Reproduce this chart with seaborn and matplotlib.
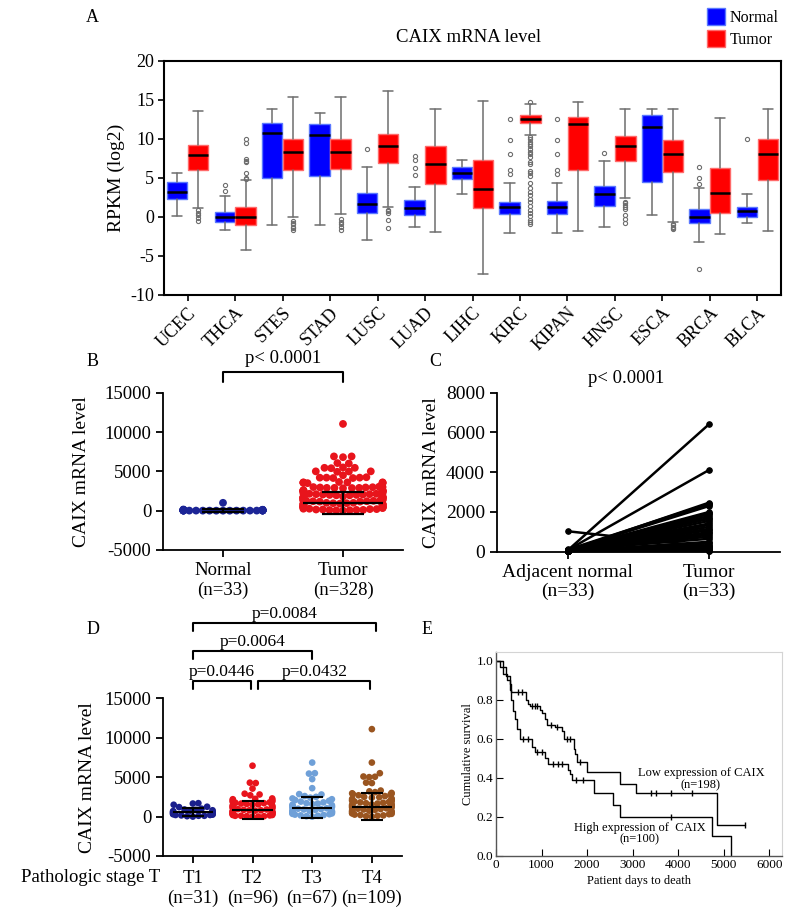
import warnings
import numpy as np
import pandas as pd
import matplotlib
matplotlib.use('Agg')
import matplotlib.pyplot as plt
from matplotlib.patches import Patch
import seaborn as sns

warnings.filterwarnings('ignore')

sns.set_theme(style='ticks')
plt.rcParams['font.family'] = ['Liberation Serif', 'DejaVu Serif']
plt.rcParams['axes.unicode_minus'] = False
plt.rcParams['axes.edgecolor'] = 'black'
plt.rcParams['xtick.color'] = 'black'
plt.rcParams['ytick.color'] = 'black'
plt.rcParams['text.color'] = 'black'
plt.rcParams['axes.labelcolor'] = 'black'

# ---------------- panel A : box statistics per cancer type ----------------
cancers = ['UCEC', 'THCA', 'STES', 'STAD', 'LUSC', 'LUAD', 'LIHC',
           'KIRC', 'KIPAN', 'HNSC', 'ESCA', 'BRCA', 'BLCA']

normal_whislo = [0.1, -1.7, -1.1, -1.1, -3.0, -1.3, 2.9, -2.05, -2.05, -1.3, 0.25, -3.3, -0.85]
normal_q1 = [2.3, -0.65, 4.9, 5.2, 0.5, 0.2, 4.8, 0.35, 0.4, 1.35, 4.5, -0.85, 0.0]
normal_med = [3.2, 0.0, 10.75, 10.5, 1.6, 1.1, 5.65, 1.2, 1.2, 2.85, 11.55, 0.0, 0.75]
normal_q3 = [4.5, 0.65, 12.05, 11.9, 3.0, 2.15, 6.4, 1.9, 2.0, 3.9, 13.0, 0.95, 1.3]
normal_whishi = [5.6, 2.7, 13.8, 13.3, 6.4, 3.75, 7.25, 4.35, 4.35, 7.1, 13.75, 3.7, 2.85]
normal_fliers = [[], [4.0, 3.3], [], [], [8.7], [7.8, 7.3, 6.3, 5.4], [],
                 [12.5, 9.85, 8.1, 6.0, 5.5], [12.5, 9.8, 8.1, 6.0, 5.5], [8.2], [],
                 [6.4, 5.0, 4.2, -6.7], [10.0]]

tumor_whislo = [1.1, -4.3, -0.1, 0.4, 1.2, -2.0, -7.4, 10.5, -1.8, 2.35, -0.65, -2.2, -1.8]
tumor_q1 = [6.0, -1.1, 6.0, 6.1, 6.9, 4.2, 1.07, 12.0, 6.0, 7.2, 5.7, 0.43, 4.7]
tumor_med = [7.9, 0.0, 8.3, 8.3, 9.05, 6.75, 3.6, 12.55, 11.9, 9.05, 8.1, 3.1, 8.0]
tumor_q3 = [9.2, 1.2, 9.9, 9.9, 10.6, 9.05, 7.25, 13.0, 12.75, 10.4, 9.8, 6.3, 9.95]
tumor_whishi = [13.5, 4.7, 15.3, 15.3, 16.15, 13.8, 14.8, 14.5, 14.75, 13.75, 13.8, 12.7, 13.75]
tumor_fliers = [[0.9, 0.5, 0.2, -0.2, -0.5],
                [9.9, 9.5, 7.4, 7.1, 7.0, 5.6, 5.0, 4.8],
                [-0.5, -0.8, -1.0, -1.3, -1.5, -1.7],
                [-0.3, -0.7, -1.0, -1.3, -1.7],
                [0.9, 0.7, 0.5, -0.4, -1.4],
                [], [],
                [14.7, 10.2, 9.9, 9.6, 9.3, 9.0, 8.7, 8.3, 8.1, 7.6, 7.0, 6.7, 5.9,
                 5.6, 5.2, 4.3, 3.7, 3.2, 2.8, 2.3, 1.9, 1.4, 0.9, 0.5, 0.1, -0.4,
                 -0.7, -1.0],
                [],
                [1.9, 1.7, 1.5, 1.3, 1.0, 0.2, -0.3, -0.8],
                [-0.9, -1.1, -1.3, -1.5, -1.6],
                [], []]

# ---------------- panel B : normal vs tumor ----------------
b_groups = ['Normal', 'Tumor']
b_labels = ['Normal\n(n=33)', 'Tumor\n(n=328)']
b_normal = [1000, 150, 120, 100, 90, 80, 80, 70, 60, 60, 50, 50, 40, 40, 30, 30, 30,
            20, 20, 20, 20, 10, 10, 10, 10, 10, 5, 5, 5, 5, 0, 0, 0]
b_tumor = [11030, 6900, 6900, 6800, 6050, 6000, 5500, 5450, 5450, 5400,
           5000, 5000, 4980, 4950, 4500, 4250, 4200, 4200, 4200, 4150, 4150,
           3650, 3600, 3600, 3600, 3550, 3550, 3550, 3500, 3500,
           3050, 3000, 3000, 2980, 2950, 2950, 2900, 2900, 2900, 2880, 2850,
           2600, 2600, 2580, 2550, 2550, 2500, 2500, 2480, 2450, 2450, 2400, 2400,
           2200, 2200, 2150, 2150, 2100, 2100, 2050, 2050, 2000, 2000, 1950, 1950,
           1800, 1800, 1750, 1750, 1700, 1700, 1650, 1650, 1600, 1600, 1550, 1550,
           1400, 1400, 1350, 1350, 1300, 1300, 1250, 1250, 1200, 1200, 1150, 1150,
           1000, 1000, 950, 950, 900, 900, 850, 850, 800, 800, 750, 750,
           600, 600, 550, 550, 500, 500, 450, 450, 400, 400, 350, 350,
           250, 250, 200, 200, 150, 150, 100, 100, 80, 60, 40, 20]
b_mean = [50, 1000]
b_sd = [180, 1380]

# ---------------- panel C : paired samples ----------------
c_labels = ['Adjacent normal\n(n=33)', 'Tumor\n(n=33)']
c_normal = [60, 80, 50, 100, 40, 70, 90, 30, 60, 50, 120, 80, 40, 70, 20, 60, 90,
            50, 30, 100, 1030, 60, 40, 80, 20, 50, 70, 30, 60, 40, 90, 20, 50]
c_tumor = [6420, 4115, 2470, 2420, 2380, 2300, 2000, 1950, 1900, 1800, 1700, 1650,
           1550, 1420, 1350, 1250, 1150, 1080, 980, 920, 250, 850, 760, 650, 500,
           420, 330, 280, 200, 150, 100, 60, 30]

# ---------------- panel D : pathologic stage T ----------------
d_stages = ['T1', 'T2', 'T3', 'T4']
d_labels = ['T1\n(n=31)', 'T2\n(n=96)', 'T3\n(n=67)', 'T4\n(n=109)']
d_t1 = [1700, 1650, 1500, 1250, 1200, 1000, 900, 850, 800, 750, 700, 650, 600, 600,
        550, 500, 500, 450, 400, 400, 350, 300, 300, 250, 200, 200, 150, 100, 100, 50, 0]
d_t2 = [6450, 4300, 4250, 3550, 2900, 2800, 2700,
        2300, 2250, 2200, 2150, 2100, 2000, 1950, 1900, 1850, 1800, 1750, 1700, 1650,
        1600, 1550, 1500, 1450, 1400, 1350, 1300, 1250, 1200, 1150, 1100, 1050, 1000,
        950, 900, 850, 800, 800, 750, 700, 700, 650, 600, 600, 550, 500, 500, 450, 400,
        400, 350, 300, 300, 250, 200, 200, 150, 100, 100, 50, 50, 0, 0]
d_t3 = [6850, 5500, 5450, 4750, 3600, 2850, 2800, 2600, 2500, 2400, 2300, 2200, 2100,
        2000, 1900, 1800, 1700, 1650, 1600, 1500, 1450, 1400, 1300, 1250, 1200, 1100,
        1050, 1000, 950, 900, 850, 800, 750, 700, 650, 600, 550, 500, 450, 400, 350,
        300, 250, 200, 150, 100, 50, 0]
d_t4 = [11090, 6850, 5500, 5080, 5050, 5000, 4300, 4250, 3300, 3200, 3100, 3000, 2950,
        2900, 2850, 2800, 2700, 2600, 2500, 2450, 2400, 2300, 2250, 2200, 2100, 2050,
        2000, 1950, 1900, 1850, 1800, 1750, 1700, 1650, 1600, 1550, 1500, 1450, 1400,
        1350, 1300, 1250, 1200, 1150, 1100, 1050, 1000, 950, 900, 850, 800, 750, 700,
        650, 600, 550, 500, 450, 400, 350, 300, 250, 200, 150, 100, 50, 0]
d_mean = [560, 850, 1140, 1270]
d_sd = [500, 1130, 1320, 1700]
d_pairs = [(0, 0.98), (1.1, 2.97), (0, 2.0), (0, 3.07)]
d_pvals = ['p=0.0446', 'p=0.0432', 'p=0.0064', 'p=0.0084']
d_bracket_top = [17230, 17230, 21000, 24510]

# ---------------- panel E : Kaplan-Meier ----------------
km_low_t = [0, 90, 230, 300, 340, 450, 660, 700, 750, 965, 1020, 1075, 1110, 1295,
            1440, 1490, 1710, 1740, 1770, 1990, 2720, 3070, 4840, 5460]
km_low_s = [1.0, 0.97, 0.92, 0.88, 0.84, 0.84, 0.80, 0.78, 0.77, 0.75, 0.73, 0.70,
            0.67, 0.66, 0.64, 0.60, 0.55, 0.52, 0.48, 0.43, 0.37, 0.32, 0.16, 0.16]
km_low_cens_t = [480, 560, 800, 860, 900, 1200, 1330, 1560, 1620, 1850, 3400, 3520,
                 3830, 4300, 5460]
km_low_cens_s = [0.84, 0.84, 0.77, 0.77, 0.77, 0.67, 0.66, 0.60, 0.60, 0.48, 0.32,
                 0.32, 0.32, 0.32, 0.16]
km_high_t = [0, 150, 250, 300, 340, 380, 420, 460, 520, 780, 860, 1070, 1150, 1580,
             1630, 1670, 2150, 2560, 2720, 4750, 5150]
km_high_s = [1.0, 0.93, 0.90, 0.85, 0.80, 0.74, 0.70, 0.65, 0.60, 0.56, 0.53, 0.50,
             0.47, 0.44, 0.42, 0.39, 0.32, 0.26, 0.20, 0.10, 0.0]
km_high_cens_t = [600, 700, 900, 1000, 1250, 1350, 1450, 1750, 1900, 3850]
km_high_cens_s = [0.60, 0.60, 0.53, 0.53, 0.47, 0.47, 0.47, 0.39, 0.39, 0.20]

W, H = 800, 924
fig = plt.figure(figsize=(W / 100, H / 100), dpi=100)


def px_axes(left, top, right, bottom):
    return fig.add_axes([left / W, 1 - bottom / H, (right - left) / W, (bottom - top) / H])


def panel_label(x, y, s):
    fig.text(x / W, 1 - y / H, s, fontsize=13, ha='center', va='center')


def squeeze_swarm(ax, half_width):
    # seaborn lays the swarm out over +-0.4 at draw time; freeze it and narrow it
    fig.canvas.draw()
    for coll in ax.collections:
        if 'draw' in coll.__dict__:
            offs = coll.get_offsets().copy()
            center = np.round(np.median(offs[:, 0]))
            offs[:, 0] = center + (offs[:, 0] - center) * half_width / 0.4
            del coll.draw
            coll.set_offsets(offs)


# ======================= A =======================
axA = px_axes(164, 60.7, 781, 294.7)


def make_stats(whislo, q1, med, q3, whishi, fliers):
    return [dict(whislo=a, q1=b, med=c, q3=d, whishi=e, fliers=f)
            for a, b, c, d, e, f in zip(whislo, q1, med, q3, whishi, fliers)]


pos = np.arange(len(cancers))
common = dict(widths=0.43, patch_artist=True, manage_ticks=False,
              medianprops=dict(color='black', lw=1.8),
              whiskerprops=dict(color='#6e6e6e', lw=1.1),
              capprops=dict(color='#6e6e6e', lw=1.1),
              flierprops=dict(marker='o', mfc='none', mec='#6e6e6e', ms=3.0, mew=0.8))
axA.bxp(make_stats(normal_whislo, normal_q1, normal_med, normal_q3, normal_whishi, normal_fliers),
        positions=pos - 0.22, boxprops=dict(facecolor='#0000ff', edgecolor='#5a78ff', lw=1), **common)
axA.bxp(make_stats(tumor_whislo, tumor_q1, tumor_med, tumor_q3, tumor_whishi, tumor_fliers),
        positions=pos + 0.22, boxprops=dict(facecolor='#ff0000', edgecolor='#ff6a6a', lw=1), **common)
axA.set_xlim(-0.5, len(cancers) - 0.5)
axA.set_ylim(-10, 20)
axA.set_yticks([-10, -5, 0, 5, 10, 15, 20])
axA.set_xticks(pos)
axA.set_xticklabels(cancers, rotation=45, ha='right', rotation_mode='anchor')
axA.tick_params(axis='both', labelsize=13, length=4, width=1.2, pad=3)
axA.set_ylabel('RPKM (log2)', fontsize=14, labelpad=4)
for sp in axA.spines.values():
    sp.set_linewidth(1.5)
fig.text(469 / W, 1 - 38 / H, 'CAIX mRNA level', fontsize=13.5, ha='center', va='center')
fig.legend(handles=[Patch(facecolor='#0000ff', edgecolor='#5a78ff', label='Normal'),
                    Patch(facecolor='#ff0000', edgecolor='#ff6a6a', label='Tumor')],
           loc='upper left', bbox_to_anchor=(707 / W, 1 - 8 / H), frameon=False,
           fontsize=11.5, handlelength=1.1, handleheight=1.3, handletextpad=0.3,
           labelspacing=0.25, borderpad=0, borderaxespad=0)
panel_label(92.7, 18, 'A')

# ======================= B =======================
axB = px_axes(163, 392.7, 403, 550)
b_df = pd.DataFrame({'group': ['Normal'] * len(b_normal) + ['Tumor'] * len(b_tumor),
                     'value': b_normal + b_tumor})
sns.swarmplot(data=b_df, x='group', y='value', hue='group', order=b_groups,
              hue_order=b_groups, palette=['#1c2596', '#e8141c'], size=5.6,
              linewidth=0, legend=False, ax=axB, zorder=2)
axB.set_xlim(-0.5, 1.5)
axB.set_ylim(-5000, 15000)
squeeze_swarm(axB, 0.33)
for i, (m, s, z) in enumerate(zip(b_mean, b_sd, [1, 5])):
    axB.hlines(m, i - 0.33, i + 0.33, color='black', lw=1.6, zorder=z)
    axB.errorbar(i, m, yerr=s, color='black', capsize=15, elinewidth=1.6,
                 capthick=1.6, zorder=5)
axB.set_yticks([-5000, 0, 5000, 10000, 15000])
axB.set_xticks([0, 1])
axB.set_xticklabels(b_labels)
axB.set_xlabel('')
axB.set_ylabel('CAIX mRNA level', fontsize=14, labelpad=10)
axB.tick_params(axis='both', labelsize=13.5, length=5, width=1.3)
sns.despine(ax=axB)
for sp in axB.spines.values():
    sp.set_linewidth(1.3)
axB.plot([0, 0, 1, 1], [16400, 17670, 17670, 16400], color='black', lw=1.5, clip_on=False)
axB.text(0.5, 19285, 'p< 0.0001', fontsize=13.5, ha='center', va='center')
panel_label(93, 362, 'B')

# ======================= C =======================
axC = px_axes(496.7, 392.7, 780, 551.7)
c_df = pd.DataFrame({'pair': list(range(len(c_normal))) * 2,
                     'pos': [0] * len(c_normal) + [1] * len(c_tumor),
                     'value': c_normal + c_tumor})
sns.lineplot(data=c_df, x='pos', y='value', units='pair', estimator=None,
             color='black', lw=1.8, marker='o', ms=4, mec='black', ax=axC,
             clip_on=False)
axC.set_xlim(-0.5, 1.5)
axC.set_ylim(0, 8000)
axC.set_yticks([0, 2000, 4000, 6000, 8000])
axC.set_xticks([0, 1])
axC.set_xticklabels(c_labels)
axC.set_xlabel('')
axC.set_ylabel('CAIX mRNA level', fontsize=14, labelpad=4)
axC.tick_params(axis='both', labelsize=14, length=5, width=1.3)
sns.despine(ax=axC)
for sp in axC.spines.values():
    sp.set_linewidth(1.3)
axC.text(0.417, 8725, 'p< 0.0001', fontsize=13.5, ha='center', va='center')
panel_label(435, 362, 'C')

# ======================= D =======================
axD = px_axes(163, 698.3, 401.7, 856)
d_values = [d_t1, d_t2, d_t3, d_t4]
d_df = pd.DataFrame({'stage': [s for s, v in zip(d_stages, d_values) for _ in v],
                     'value': [x for v in d_values for x in v]})
sns.swarmplot(data=d_df, x='stage', y='value', hue='stage', order=d_stages,
              hue_order=d_stages, palette=['#1a1f8c', '#e8141c', '#6fa0d8', '#9a5520'],
              size=4.8, linewidth=0, legend=False, ax=axD, zorder=2)
axD.set_xlim(-0.5, 3.5)
axD.set_ylim(-5000, 15000)
squeeze_swarm(axD, 0.33)
for i, (m, s) in enumerate(zip(d_mean, d_sd)):
    axD.hlines(m, i - 0.34, i + 0.34, color='black', lw=1.5, zorder=5)
    axD.errorbar(i, m, yerr=s, color='black', capsize=8, elinewidth=1.5,
                 capthick=1.5, zorder=5)
axD.set_yticks([-5000, 0, 5000, 10000, 15000])
axD.set_xticks(range(4))
axD.set_xticklabels(d_labels)
axD.set_xlabel('')
axD.set_ylabel('CAIX mRNA level', fontsize=14, labelpad=6)
axD.tick_params(axis='both', labelsize=13.5, length=5, width=1.3)
axD.tick_params(axis='x', pad=5)
sns.despine(ax=axD)
for sp in axD.spines.values():
    sp.set_linewidth(1.3)
for (x0, x1), label, top in zip(d_pairs, d_pvals, d_bracket_top):
    axD.plot([x0, x0, x1, x1], [top - 1000, top, top, top - 1000], color='black',
             lw=1.5, clip_on=False)
    axD.text((x0 + x1) / 2, top + 1150, label, fontsize=12.5, ha='center', va='center')
fig.text(160 / W, 1 - 878 / H, 'Pathologic stage T', fontsize=13.5, ha='right', va='center')
panel_label(93, 630, 'D')

# ======================= E =======================
axE = px_axes(496, 651.7, 781.7, 856)
sns.lineplot(x=km_low_t, y=km_low_s, drawstyle='steps-post', estimator=None,
             sort=False, color='black', lw=1.0, ax=axE)
sns.lineplot(x=km_high_t, y=km_high_s, drawstyle='steps-post', estimator=None,
             sort=False, color='black', lw=1.0, ax=axE)
axE.plot(km_low_cens_t, km_low_cens_s, ls='none', marker='|', ms=4, mew=1, color='black')
axE.plot(km_high_cens_t, km_high_cens_s, ls='none', marker='|', ms=4, mew=1, color='black')
axE.set_xlim(0, 6270)
axE.set_ylim(0, 1.046)
axE.set_xticks([0, 1000, 2000, 3000, 4000, 5000, 6000])
axE.set_yticks([0, 0.2, 0.4, 0.6, 0.8, 1.0])
axE.set_yticklabels(['0.0', '0.2', '0.4', '0.6', '0.8', '1.0'])
axE.tick_params(axis='both', direction='in', labelsize=9.5, length=5, width=0.8, pad=2)
axE.set_xlabel('Patient days to death', fontsize=9, labelpad=3)
axE.set_ylabel('Cumulative survival', fontsize=9, labelpad=2)
for side in ['top', 'right']:
    axE.spines[side].set_color('#d4d4d4')
    axE.spines[side].set_linewidth(0.8)
for side in ['left', 'bottom']:
    axE.spines[side].set_color('#555555')
    axE.spines[side].set_linewidth(1.0)
axE.text(4497, 0.4265, 'Low expression of CAIX', fontsize=9, ha='center', va='center')
axE.text(4479, 0.3635, '(n=198)', fontsize=9, ha='center', va='center')
axE.text(3161, 0.145, 'High expression of  CAIX', fontsize=9, ha='center', va='center')
axE.text(3140, 0.0855, '(n=100)', fontsize=9, ha='center', va='center')
panel_label(426.7, 630, 'E')

fig.savefig('out.png', dpi=100)
